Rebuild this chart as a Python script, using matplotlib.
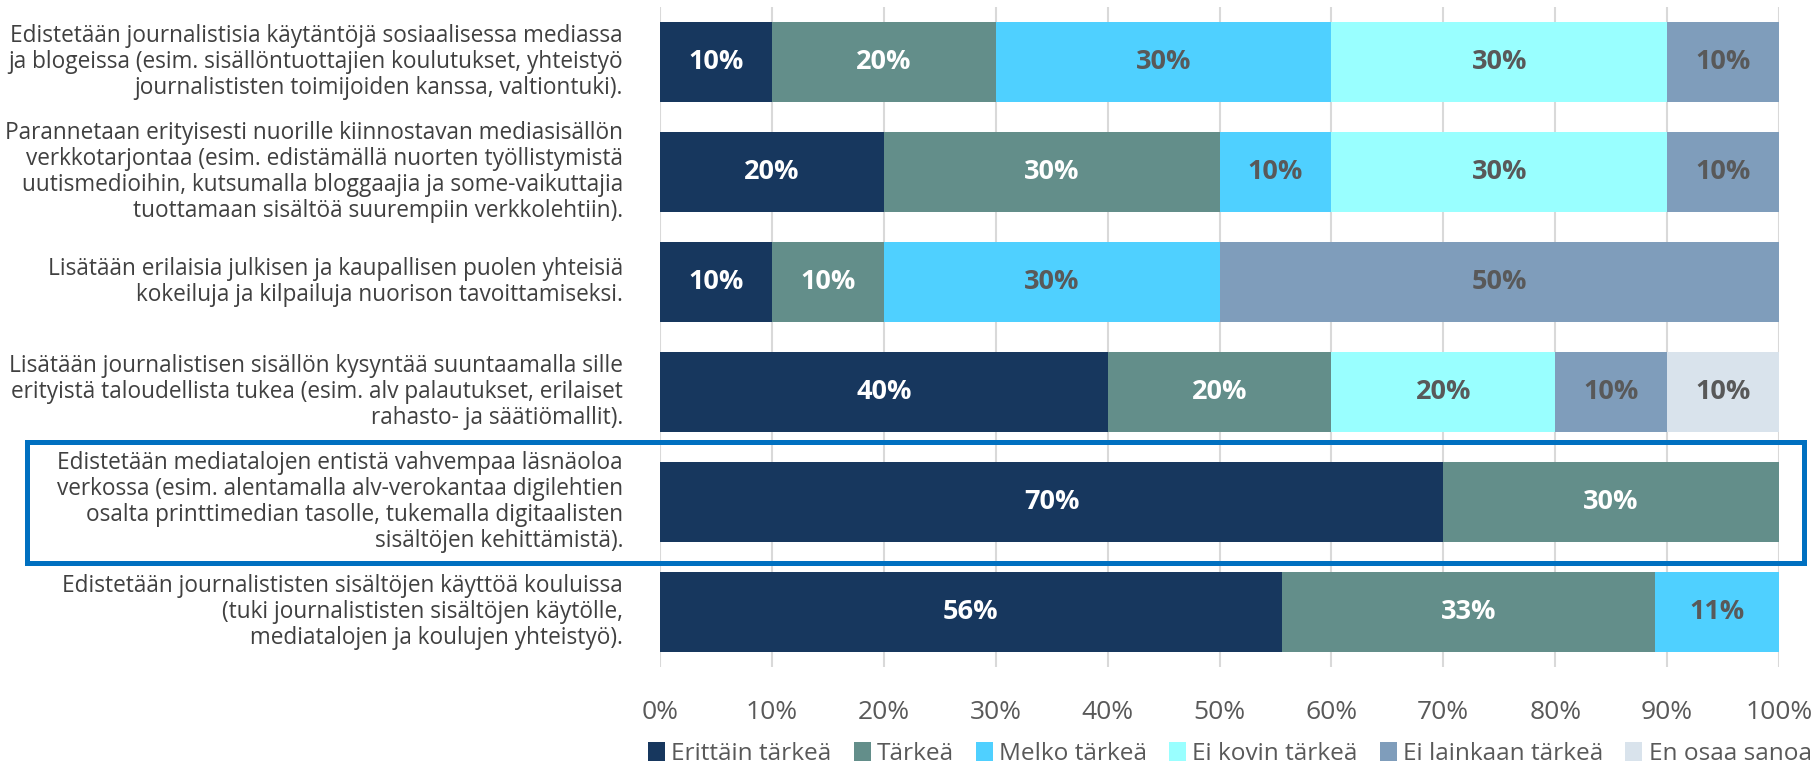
import matplotlib.pyplot as plt
from matplotlib.patches import Rectangle
import numpy as np

# categories top to bottom
categories = [
    "Edistetään journalistisia käytäntöjä sosiaalisessa mediassa\nja blogeissa (esim. sisällöntuottajien koulutukset, yhteistyö\njournalististen toimijoiden kanssa, valtiontuki).",
    "Parannetaan erityisesti nuorille kiinnostavan mediasisällön\nverkkotarjontaa (esim. edistämällä nuorten työllistymistä\nuutismedioihin, kutsumalla bloggaajia ja some-vaikuttajia\ntuottamaan sisältöä suurempiin verkkolehtiin).",
    "Lisätään erilaisia julkisen ja kaupallisen puolen yhteisiä\nkokeiluja ja kilpailuja nuorison tavoittamiseksi.",
    "Lisätään journalistisen sisällön kysyntää suuntaamalla sille\nerityistä taloudellista tukea (esim. alv palautukset, erilaiset\nrahasto- ja säätiömallit).",
    "Edistetään mediatalojen entistä vahvempaa läsnäoloa\nverkossa (esim. alentamalla alv-verokantaa digilehtien\nosalta printtimedian tasolle, tukemalla digitaalisten\nsisältöjen kehittämistä).",
    "Edistetään journalististen sisältöjen käyttöä kouluissa\n(tuki journalististen sisältöjen käytölle,\nmediatalojen ja koulujen yhteistyö).",
]

series = ["Erittäin tärkeä", "Tärkeä", "Melko tärkeä", "Ei kovin tärkeä",
          "Ei lainkaan tärkeä", "En osaa sanoa"]
colors = ["#17375E", "#638E8A", "#4FD0FF", "#99FFFF", "#7F9DBB", "#D9E3EC"]
label_colors = ["white", "white", "#595959", "#595959", "#595959", "#595959"]

erittain = [10, 20, 10, 40, 70, 55.56]
tarkea = [20, 30, 10, 20, 30, 33.33]
melko = [30, 10, 30, 0, 0, 11.11]
ei_kovin = [30, 30, 0, 20, 0, 0]
ei_lainkaan = [10, 10, 50, 10, 0, 0]
en_osaa = [0, 0, 0, 10, 0, 0]
values = [erittain, tarkea, melko, ei_kovin, ei_lainkaan, en_osaa]

W, H = 1816, 768
fig = plt.figure(figsize=(W / 100, H / 100), dpi=100)
ax = fig.add_axes([660 / W, 1 - 667 / H, (1779 - 660) / W, (667 - 7) / H])

n = len(categories)
y = np.arange(n)[::-1]
left = np.zeros(n)
for s, vals, col, lc in zip(series, values, colors, label_colors):
    vals = np.array(vals)
    ax.barh(y, vals, left=left, height=0.73, color=col, label=s, zorder=2)
    for yi, l, v in zip(y, left, vals):
        if v > 0:
            ax.text(l + v / 2, yi, f"{v:.0f}%", ha="center", va="center",
                    color=lc, fontsize=19.5, fontweight="bold", family="Open Sans", zorder=3)
    left += vals

ax.set_xlim(0, 100)
ax.set_ylim(-0.5, n - 0.5)
ax.set_xticks(np.arange(0, 101, 10))
ax.set_xticklabels([f"{t}%" for t in range(0, 101, 10)], fontsize=19, color="#595959",
                   family="Open Sans")
ax.tick_params(axis="x", length=0, pad=24)
ax.set_yticks([])
ax.grid(axis="x", color="#D9D9D9", linewidth=1.5, zorder=0)
for sp in ax.spines.values():
    sp.set_visible(False)

for yi, cat in zip(y, categories):
    ax.text(-3.3, yi, cat, ha="right", va="center", fontsize=16.3, color="#404040",
            family="Open Sans", linespacing=1.12)

# highlight box around fifth item
fig.patches.append(Rectangle((26.5 / W, 1 - 563 / H), (1804 - 26.5) / W, (563 - 442) / H,
                             transform=fig.transFigure, fill=False,
                             edgecolor="#0070C0", linewidth=3.6))

fig.legend(loc="center left", bbox_to_anchor=(636 / W, 1 - 754 / H), ncol=6, frameon=False,
           borderpad=0, handlelength=0.7, handleheight=0.8, handletextpad=0.25,
           columnspacing=0.9, prop={"family": "Open Sans", "size": 17.6}, labelcolor="#595959")

fig.savefig("out.png", dpi=100)
